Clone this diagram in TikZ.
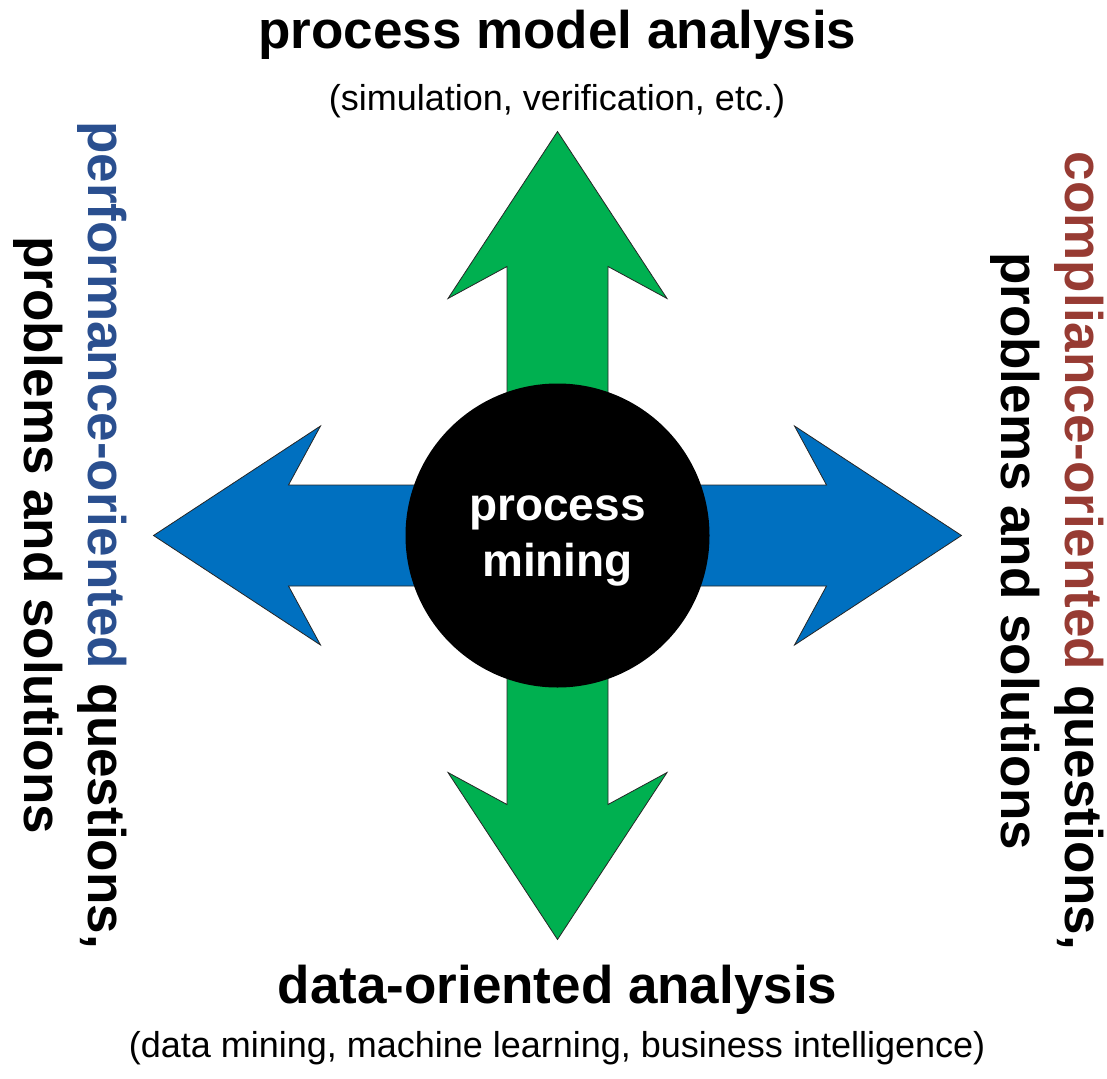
\documentclass[tikz,border=0pt]{standalone}
\usepackage{fontspec}
\setmainfont{Liberation Sans}
\definecolor{arrowblue}{HTML}{0070C0}
\definecolor{arrowgreen}{HTML}{00B050}
\definecolor{perfblue}{HTML}{2A4F8F}
\definecolor{complred}{HTML}{973B33}
\newcommand{\bigfont}{\fontsize{53}{64}\selectfont}
\newcommand{\smallfont}{\fontsize{36}{43}\selectfont}
\newcommand{\hubfont}{\fontsize{46}{56}\selectfont}
\begin{document}
\begin{tikzpicture}[x=1pt,y=-1pt,
    title/.style={font=\bfseries\bigfont,inner sep=0pt,anchor=base},
    subtitle/.style={font=\smallfont,inner sep=0pt,anchor=base},
    side/.style={font=\bfseries\bigfont,align=center,inner sep=0pt,rotate=-90},
    hub/.style={circle,fill=black,minimum size=304pt,inner sep=0pt},
    hubtext/.style={font=\bfseries\hubfont,text=white,align=center,inner sep=0pt},
    blockarrow/.style={draw=black!85,line width=0.8pt,line join=miter}]
  \useasboundingbox (0,0) rectangle (1107,1078);
  % block arrows out of the hub
  \foreach \ang/\col in {0/arrowblue,90/arrowgreen,180/arrowblue,270/arrowgreen}
    \draw[blockarrow,fill=\col,shift={(557.5,535.5)},rotate=\ang]
      (0,-50.5) -- (269,-50.5) -- (237,-109.5) -- (404,0)
      -- (237,109.5) -- (269,50.5) -- (0,50.5) -- cycle;
  % hub
  \node[hub] (pm) at (557.5,535.5) {};
  \node[hubtext] (pmtext) at (557.5,541) {process\\mining};
  % top and bottom
  \node[title] (pma) at (557.5,49) {process model analysis};
  \node[subtitle] (pmasub) at (557,111) {(simulation, verification, etc.)};
  \node[title] (doa) at (557.5,1003) {data-oriented analysis};
  \node[subtitle] (doasub) at (557,1057) {(data mining, machine learning, business intelligence)};
  % sides
  \node[side] (perf) at (70,535) {\textcolor{perfblue}{performance-oriented} questions,\\problems and solutions};
  \node[side] (compl) at (1047,551) {\textcolor{complred}{compliance-oriented} questions,\\problems and solutions};
\end{tikzpicture}
\end{document}
